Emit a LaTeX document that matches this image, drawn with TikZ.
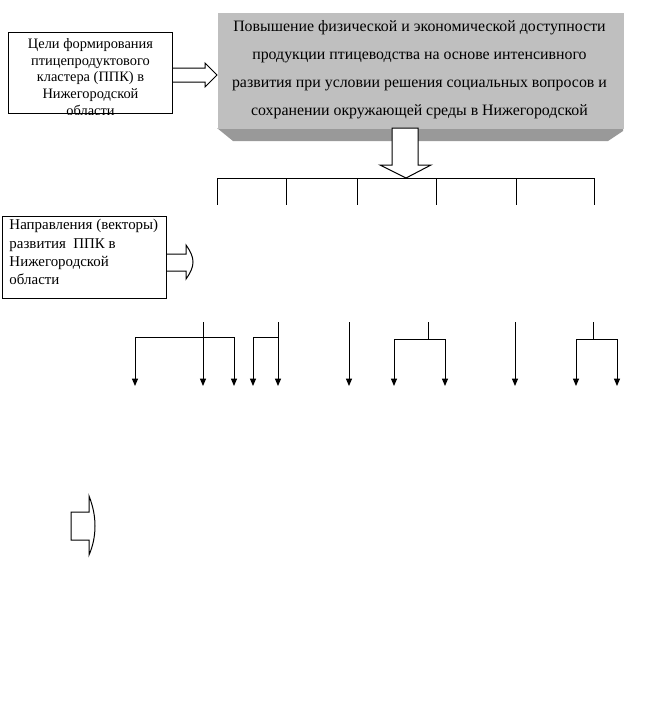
\documentclass[tikz,border=0pt]{standalone}
\usepackage{fontspec}
\setmainfont{Liberation Serif}
\usetikzlibrary{arrows.meta,positioning,calc}

\begin{document}
\begin{tikzpicture}[x=0.75pt, y=-0.75pt, line width=0.75pt,
  box/.style={draw, inner sep=0pt, anchor=north west, minimum width=123pt},
  txt/.style={inner sep=0pt, font=\fontsize{10.8}{12.5}\selectfont},
  blockarr/.style={draw, fill=white, line join=miter},
  arr/.style={-{Triangle[width=4.5pt,length=5.5pt]}}]
\useasboundingbox (0,0) rectangle (652,715);

% main goal box with its bevelled shadow
\fill[black!40] (217,128) -- (623,128) -- (623,131) -- (608,141) -- (233,141) -- cycle;
\node[fill=black!25, inner sep=0pt, anchor=north west, minimum width=304.5pt, minimum height=87pt] (aim) at (217,12) {};
\node[txt, align=center, anchor=north, font=\fontsize{11.9}{21}\selectfont] (aimtxt) at ($(aim.north)+(-1,8)$)
  {Повышение физической и экономической доступности\\продукции птицеводства на основе интенсивного\\развития при условии решения социальных вопросов и\\сохранении окружающей среды в Нижегородской};

% left boxes
\node[box, minimum height=60.75pt] (goal) at (8,32) {};
\begin{scope}
\clip (goal.north west) rectangle (goal.south east);
\node[txt, align=center, anchor=north] (goaltxt) at ($(goal.north)+(0,6)$)
  {Цели формирования\\птицепродуктового\\кластера (ППК) в\\Нижегородской\\области};
\end{scope}
\node[box, minimum height=61.5pt] (vect) at (2,216) {};
\node[txt, align=left, anchor=north west, font=\fontsize{11.2}{13.7}\selectfont] (vecttxt) at ($(vect.north west)+(7,3)$)
  {Направления (векторы)\\развития\ \ ППК в\\Нижегородской\\области};

% block arrows
\draw[blockarr] (goal.east |- 0,68) -- (205,68) -- (205,63) -- (217,75) -- (205,87) -- (205,82) -- (goal.east |- 0,82);
\draw[blockarr] (392,128) -- (392,165) -- (380,165) -- (406,178) -- (431,165) -- (418,165) -- (418,128) -- cycle;
\draw[blockarr] (vect.east |- 0,254) -- (186,254) -- (186,245) .. controls (191,252) and (193,257) .. (193,262)
  .. controls (193,267) and (191,272) .. (186,279) -- (186,271) -- (vect.east |- 0,271);
\draw[blockarr] (71,512) -- (89,512) -- (89,496) .. controls (93,506) and (95,516) .. (95,526)
  .. controls (95,536) and (93,546) .. (89,555) -- (89,540) -- (71,540) -- cycle;

% tree under the main box
\draw (217,178) -- (594,178);
\foreach \xx in {217,286,357,436,516,594}
  \draw (\xx,178) -- (\xx,205);

% lower arrows
\coordinate (g1) at (203,322); \coordinate (j1) at (203,337);
\coordinate (g2) at (278,322); \coordinate (j2) at (278,337);
\coordinate (g3) at (349,322);
\coordinate (g4) at (428,322); \coordinate (j4) at (428,339);
\coordinate (g5) at (515,322);
\coordinate (g6) at (593,322); \coordinate (j6) at (593,339);
\coordinate (t1a) at (135,386); \coordinate (t1b) at (203,386); \coordinate (t1c) at (234,386);
\coordinate (t2a) at (253,386); \coordinate (t2b) at (278,386);
\coordinate (t3) at (349,386);
\coordinate (t4a) at (394,386); \coordinate (t4b) at (445,386);
\coordinate (t5) at (515,386);
\coordinate (t6a) at (576,386); \coordinate (t6b) at (617,386);

\draw (g1) -- (j1);
\draw[arr] (j1) -| (t1a);
\draw[arr] (j1) -- (t1b);
\draw[arr] (j1) -| (t1c);
\draw (g2) -- (j2);
\draw[arr] (j2) -| (t2a);
\draw[arr] (j2) -- (t2b);
\draw[arr] (g3) -- (t3);
\draw (g4) -- (j4);
\draw[arr] (j4) -| (t4a);
\draw[arr] (j4) -| (t4b);
\draw[arr] (g5) -- (t5);
\draw (g6) -- (j6);
\draw[arr] (j6) -| (t6a);
\draw[arr] (j6) -| (t6b);
\end{tikzpicture}
\end{document}
